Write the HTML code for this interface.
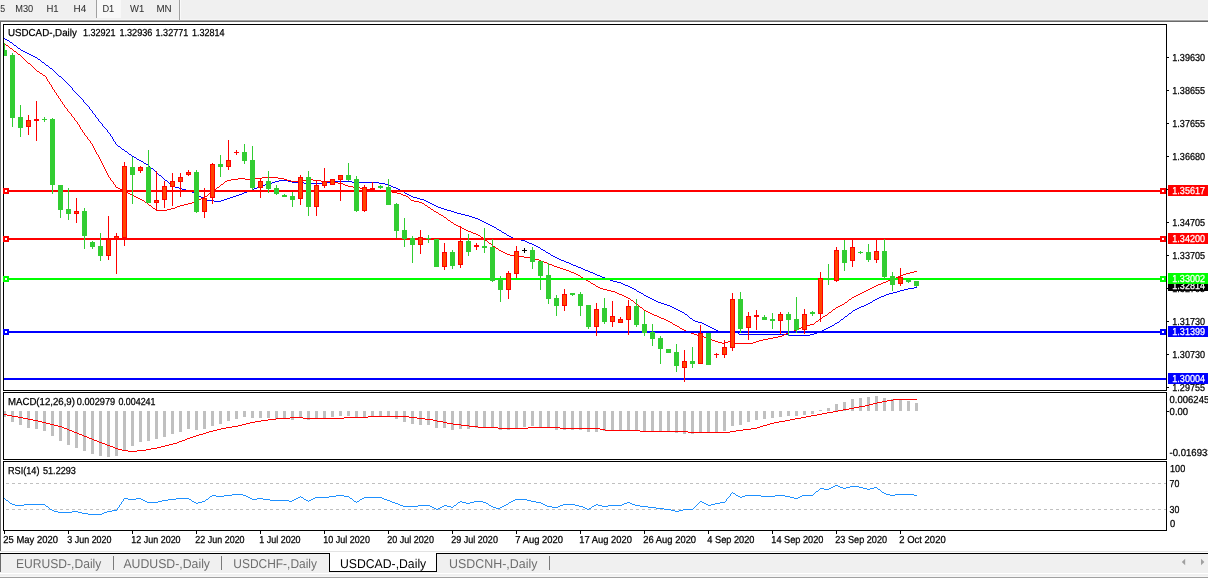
<!DOCTYPE html>
<html><head><meta charset="utf-8"><title>USDCAD-,Daily</title>
<style>
html,body{margin:0;padding:0;background:#fff;overflow:hidden}
svg{display:block;font-family:"Liberation Sans",sans-serif;text-rendering:geometricPrecision}
.c{shape-rendering:crispEdges}
.ma{fill:none;stroke-width:1;shape-rendering:crispEdges}
</style></head><body>
<svg width="1208" height="578" viewBox="0 0 1208 578">
<rect width="1208" height="578" fill="#fff"/>
<g class="c">
<rect x="0" y="0" width="1208" height="20" fill="#f0f0f0"/>
<rect x="0" y="19" width="1208" height="1" fill="#f6f6f6"/>
<rect x="0" y="20" width="1208" height="1" fill="#a6a6a6"/>
<rect x="0" y="21" width="1208" height="1" fill="#6a6a6a"/>
<rect x="97" y="0" width="24" height="18" fill="#f8f8f8"/>
<rect x="96" y="0" width="1" height="18" fill="#a0a0a0"/>
<rect x="179" y="0" width="1" height="20" fill="#a0a0a0"/>
<rect x="180" y="0" width="1" height="20" fill="#fafafa"/>
<rect x="0" y="21" width="1" height="530" fill="#6a6a6a"/>
</g>
<g>
<text x="0.3" y="12" font-size="10.1" fill="#333333" textLength="4.9" lengthAdjust="spacingAndGlyphs" stroke="#333333" stroke-width="0.05">5</text>
<text x="15.2" y="12" font-size="10.1" fill="#333333" textLength="18.0" lengthAdjust="spacingAndGlyphs" stroke="#333333" stroke-width="0.05">M30</text>
<text x="46.4" y="12" font-size="10.1" fill="#333333" textLength="12.2" lengthAdjust="spacingAndGlyphs" stroke="#333333" stroke-width="0.05">H1</text>
<text x="73.6" y="12" font-size="10.1" fill="#333333" textLength="12.7" lengthAdjust="spacingAndGlyphs" stroke="#333333" stroke-width="0.05">H4</text>
<text x="102.4" y="12" font-size="10.1" fill="#333333" textLength="11.8" lengthAdjust="spacingAndGlyphs" stroke="#333333" stroke-width="0.05">D1</text>
<text x="130.0" y="12" font-size="10.1" fill="#333333" textLength="14.2" lengthAdjust="spacingAndGlyphs" stroke="#333333" stroke-width="0.05">W1</text>
<text x="156.4" y="12" font-size="10.1" fill="#333333" textLength="15.2" lengthAdjust="spacingAndGlyphs" stroke="#333333" stroke-width="0.05">MN</text>
</g>
<g class="c" fill="none" stroke="#000" stroke-width="1">
<rect x="3.5" y="24.5" width="1163" height="366"/>
<rect x="3.5" y="392.5" width="1163" height="67"/>
<rect x="3.5" y="461.5" width="1163" height="69"/>
</g>
<path class="c" fill="#0000ff" d="M4 38h1v1h-1zM5 39h2v1h-2zM7 40h2v1h-2zM9 41h1v1h-1zM10 42h2v1h-2zM12 43h1v1h-1zM13 44h1v1h-1zM14 45h2v1h-2zM16 46h1v1h-1zM17 47h1v1h-1zM18 48h2v1h-2zM20 49h1v1h-1zM21 50h2v1h-2zM23 51h2v1h-2zM25 52h2v1h-2zM27 53h2v1h-2zM29 54h2v1h-2zM31 55h2v1h-2zM33 56h2v1h-2zM35 57h2v1h-2zM37 58h1v1h-1zM38 59h2v1h-2zM40 60h1v1h-1zM41 61h1v1h-1zM42 62h2v1h-2zM44 63h1v1h-1zM45 64h1v1h-1zM46 65h2v1h-2zM48 66h1v1h-1zM49 67h1v1h-1zM50 68h2v1h-2zM52 69h1v1h-1zM53 70h1v1h-1zM54 71h1v1h-1zM55 72h1v1h-1zM56 73h1v1h-1zM57 74h1v1h-1zM58 75h1v1h-1zM59 76h2v1h-2zM61 77h1v1h-1zM62 78h1v1h-1zM63 79h1v1h-1zM64 80h1v1h-1zM65 81h1v1h-1zM66 82h1v1h-1zM67 83h1v1h-1zM68 84h1v1h-1zM69 85h1v1h-1zM70 86h1v1h-1zM71 87h1v1h-1zM72 88h1v1h-1zM72 89h1v1h-1zM73 90h1v1h-1zM74 91h1v1h-1zM75 92h1v1h-1zM76 93h1v1h-1zM77 94h1v1h-1zM78 95h1v1h-1zM79 96h1v1h-1zM80 97h1v1h-1zM81 98h1v1h-1zM82 99h1v1h-1zM83 100h1v1h-1zM83 101h1v1h-1zM84 102h1v1h-1zM85 103h1v1h-1zM86 104h1v1h-1zM87 105h1v1h-1zM88 106h1v1h-1zM89 107h1v1h-1zM89 108h1v1h-1zM90 109h1v1h-1zM91 110h1v1h-1zM92 111h1v1h-1zM92 112h1v1h-1zM93 113h1v1h-1zM94 114h1v1h-1zM95 115h1v1h-1zM95 116h1v1h-1zM96 117h1v1h-1zM97 118h1v1h-1zM98 119h1v1h-1zM98 120h1v1h-1zM99 121h1v1h-1zM100 122h1v1h-1zM101 123h1v1h-1zM102 124h1v1h-1zM102 125h1v1h-1zM103 126h1v1h-1zM104 127h1v1h-1zM105 128h1v1h-1zM106 129h1v1h-1zM107 130h1v1h-1zM107 131h1v1h-1zM108 132h1v1h-1zM109 133h1v1h-1zM110 134h1v1h-1zM110 135h1v1h-1zM111 136h1v1h-1zM112 137h1v1h-1zM112 138h1v1h-1zM113 139h1v1h-1zM113 140h1v1h-1zM114 141h1v1h-1zM115 142h1v1h-1zM115 143h1v1h-1zM116 144h1v1h-1zM117 145h1v1h-1zM118 146h2v1h-2zM120 147h1v1h-1zM121 148h1v1h-1zM122 149h2v1h-2zM124 150h1v1h-1zM125 151h2v1h-2zM127 152h1v1h-1zM128 153h1v1h-1zM129 154h2v1h-2zM131 155h1v1h-1zM132 156h2v1h-2zM134 157h2v1h-2zM136 158h1v1h-1zM137 159h2v1h-2zM139 160h2v1h-2zM141 161h2v1h-2zM143 162h1v1h-1zM144 163h2v1h-2zM146 164h2v1h-2zM148 165h1v1h-1zM149 166h1v1h-1zM150 167h1v1h-1zM151 168h2v1h-2zM153 169h1v1h-1zM154 170h1v1h-1zM155 171h1v1h-1zM156 172h1v1h-1zM157 173h1v1h-1zM158 174h1v1h-1zM159 175h2v1h-2zM161 176h1v1h-1zM162 177h1v1h-1zM163 178h1v1h-1zM164 179h1v1h-1zM165 180h2v1h-2zM279 180h9v1h-9zM167 181h1v1h-1zM275 181h4v1h-4zM288 181h4v1h-4zM333 181h19v1h-19zM168 182h1v1h-1zM272 182h3v1h-3zM292 182h12v1h-12zM324 182h9v1h-9zM352 182h27v1h-27zM169 183h1v1h-1zM269 183h3v1h-3zM304 183h20v1h-20zM379 183h6v1h-6zM170 184h2v1h-2zM265 184h4v1h-4zM385 184h4v1h-4zM172 185h1v1h-1zM262 185h3v1h-3zM389 185h2v1h-2zM173 186h2v1h-2zM259 186h3v1h-3zM391 186h2v1h-2zM175 187h4v1h-4zM257 187h2v1h-2zM393 187h3v1h-3zM179 188h3v1h-3zM254 188h3v1h-3zM396 188h2v1h-2zM182 189h4v1h-4zM252 189h2v1h-2zM398 189h2v1h-2zM186 190h4v1h-4zM249 190h3v1h-3zM400 190h2v1h-2zM190 191h2v1h-2zM247 191h2v1h-2zM402 191h2v1h-2zM192 192h2v1h-2zM244 192h3v1h-3zM404 192h1v1h-1zM194 193h2v1h-2zM242 193h2v1h-2zM405 193h2v1h-2zM196 194h1v1h-1zM239 194h3v1h-3zM407 194h2v1h-2zM197 195h2v1h-2zM236 195h3v1h-3zM409 195h2v1h-2zM199 196h2v1h-2zM233 196h3v1h-3zM411 196h2v1h-2zM201 197h2v1h-2zM230 197h3v1h-3zM413 197h4v1h-4zM203 198h2v1h-2zM227 198h3v1h-3zM417 198h3v1h-3zM205 199h2v1h-2zM224 199h3v1h-3zM420 199h4v1h-4zM207 200h7v1h-7zM221 200h3v1h-3zM424 200h2v1h-2zM214 201h7v1h-7zM426 201h2v1h-2zM428 202h2v1h-2zM430 203h2v1h-2zM432 204h2v1h-2zM434 205h2v1h-2zM436 206h2v1h-2zM438 207h3v1h-3zM441 208h3v1h-3zM444 209h3v1h-3zM447 210h4v1h-4zM451 211h3v1h-3zM454 212h3v1h-3zM457 213h4v1h-4zM461 214h4v1h-4zM465 215h4v1h-4zM469 216h3v1h-3zM472 217h3v1h-3zM475 218h3v1h-3zM478 219h2v1h-2zM480 220h2v1h-2zM482 221h2v1h-2zM484 222h2v1h-2zM486 223h2v1h-2zM488 224h2v1h-2zM490 225h2v1h-2zM492 226h2v1h-2zM494 227h2v1h-2zM496 228h1v1h-1zM497 229h2v1h-2zM499 230h2v1h-2zM501 231h1v1h-1zM502 232h2v1h-2zM504 233h2v1h-2zM506 234h1v1h-1zM507 235h2v1h-2zM509 236h2v1h-2zM511 237h2v1h-2zM513 238h4v1h-4zM517 239h4v1h-4zM521 240h4v1h-4zM525 241h2v1h-2zM527 242h2v1h-2zM529 243h3v1h-3zM532 244h2v1h-2zM534 245h2v1h-2zM536 246h2v1h-2zM538 247h2v1h-2zM540 248h1v1h-1zM541 249h2v1h-2zM543 250h2v1h-2zM545 251h1v1h-1zM546 252h2v1h-2zM548 253h2v1h-2zM550 254h1v1h-1zM551 255h2v1h-2zM553 256h2v1h-2zM555 257h2v1h-2zM557 258h2v1h-2zM559 259h2v1h-2zM561 260h3v1h-3zM564 261h2v1h-2zM566 262h3v1h-3zM569 263h2v1h-2zM571 264h2v1h-2zM573 265h3v1h-3zM576 266h2v1h-2zM578 267h3v1h-3zM581 268h2v1h-2zM583 269h2v1h-2zM585 270h3v1h-3zM588 271h2v1h-2zM590 272h3v1h-3zM593 273h2v1h-2zM595 274h2v1h-2zM597 275h3v1h-3zM600 276h2v1h-2zM602 277h3v1h-3zM605 278h2v1h-2zM607 279h3v1h-3zM610 280h3v1h-3zM613 281h4v1h-4zM617 282h4v1h-4zM621 283h2v1h-2zM623 284h2v1h-2zM625 285h3v1h-3zM628 286h2v1h-2zM630 287h2v1h-2zM914 287h3v1h-3zM632 288h2v1h-2zM908 288h6v1h-6zM634 289h2v1h-2zM904 289h4v1h-4zM636 290h1v1h-1zM900 290h4v1h-4zM637 291h2v1h-2zM897 291h3v1h-3zM639 292h2v1h-2zM893 292h4v1h-4zM641 293h2v1h-2zM889 293h4v1h-4zM643 294h1v1h-1zM886 294h3v1h-3zM644 295h2v1h-2zM884 295h2v1h-2zM646 296h2v1h-2zM881 296h3v1h-3zM648 297h2v1h-2zM879 297h2v1h-2zM650 298h2v1h-2zM877 298h2v1h-2zM652 299h2v1h-2zM875 299h2v1h-2zM654 300h2v1h-2zM873 300h2v1h-2zM656 301h2v1h-2zM872 301h1v1h-1zM658 302h3v1h-3zM870 302h2v1h-2zM661 303h3v1h-3zM868 303h2v1h-2zM664 304h3v1h-3zM866 304h2v1h-2zM667 305h3v1h-3zM864 305h2v1h-2zM670 306h2v1h-2zM861 306h3v1h-3zM672 307h2v1h-2zM859 307h2v1h-2zM674 308h2v1h-2zM857 308h2v1h-2zM676 309h2v1h-2zM855 309h2v1h-2zM678 310h2v1h-2zM853 310h2v1h-2zM680 311h2v1h-2zM852 311h1v1h-1zM682 312h2v1h-2zM851 312h1v1h-1zM684 313h1v1h-1zM849 313h2v1h-2zM685 314h2v1h-2zM848 314h1v1h-1zM687 315h1v1h-1zM847 315h1v1h-1zM688 316h1v1h-1zM845 316h2v1h-2zM689 317h1v1h-1zM844 317h1v1h-1zM690 318h2v1h-2zM843 318h1v1h-1zM692 319h1v1h-1zM841 319h2v1h-2zM693 320h2v1h-2zM840 320h1v1h-1zM695 321h3v1h-3zM839 321h1v1h-1zM698 322h4v1h-4zM837 322h2v1h-2zM702 323h2v1h-2zM835 323h2v1h-2zM704 324h2v1h-2zM834 324h1v1h-1zM706 325h2v1h-2zM832 325h2v1h-2zM708 326h2v1h-2zM830 326h2v1h-2zM710 327h2v1h-2zM828 327h2v1h-2zM712 328h2v1h-2zM826 328h2v1h-2zM714 329h2v1h-2zM824 329h2v1h-2zM716 330h2v1h-2zM822 330h2v1h-2zM718 331h10v1h-10zM820 331h2v1h-2zM728 332h10v1h-10zM817 332h3v1h-3zM738 333h1v1h-1zM814 333h3v1h-3zM739 334h49v1h-49zM810 334h4v1h-4zM788 335h22v1h-22z"/>
<path class="c" fill="#ff0000" d="M4 43h1v1h-1zM5 44h1v1h-1zM6 45h2v1h-2zM8 46h1v1h-1zM9 47h1v1h-1zM10 48h2v1h-2zM12 49h1v1h-1zM13 50h1v1h-1zM14 51h2v1h-2zM16 52h1v1h-1zM17 53h1v1h-1zM18 54h2v1h-2zM20 55h1v1h-1zM21 56h1v1h-1zM22 57h1v1h-1zM23 58h1v1h-1zM24 59h1v1h-1zM25 60h1v1h-1zM26 61h1v1h-1zM27 62h1v1h-1zM28 63h2v1h-2zM30 64h1v1h-1zM31 65h1v1h-1zM32 66h1v1h-1zM33 67h1v1h-1zM34 68h1v1h-1zM35 69h1v1h-1zM36 70h1v1h-1zM37 71h2v1h-2zM39 72h1v1h-1zM40 73h2v1h-2zM42 74h1v1h-1zM43 75h2v1h-2zM45 76h1v1h-1zM46 77h1v1h-1zM46 78h1v1h-1zM47 79h1v1h-1zM47 80h1v1h-1zM48 81h1v1h-1zM49 82h1v1h-1zM49 83h1v1h-1zM50 84h1v1h-1zM51 85h1v1h-1zM51 86h1v1h-1zM52 87h1v1h-1zM52 88h1v1h-1zM53 89h1v1h-1zM54 90h1v1h-1zM54 91h1v1h-1zM55 92h1v1h-1zM56 93h1v1h-1zM56 94h1v1h-1zM57 95h1v1h-1zM58 96h1v1h-1zM58 97h1v1h-1zM59 98h1v1h-1zM60 99h1v1h-1zM60 100h1v1h-1zM61 101h1v1h-1zM62 102h1v1h-1zM62 103h1v1h-1zM63 104h1v1h-1zM64 105h1v1h-1zM64 106h1v1h-1zM65 107h1v1h-1zM66 108h1v1h-1zM67 109h1v1h-1zM67 110h1v1h-1zM68 111h1v1h-1zM69 112h1v1h-1zM70 113h1v1h-1zM71 114h1v1h-1zM71 115h1v1h-1zM72 116h1v1h-1zM73 117h1v1h-1zM74 118h1v1h-1zM74 119h1v1h-1zM75 120h1v1h-1zM76 121h1v1h-1zM77 122h1v1h-1zM77 123h1v1h-1zM78 124h1v1h-1zM79 125h1v1h-1zM79 126h1v1h-1zM80 127h1v1h-1zM80 128h1v1h-1zM81 129h1v1h-1zM82 130h1v1h-1zM82 131h1v1h-1zM83 132h1v1h-1zM84 133h1v1h-1zM84 134h1v1h-1zM85 135h1v1h-1zM86 136h1v1h-1zM87 137h1v1h-1zM87 138h1v1h-1zM88 139h1v1h-1zM89 140h1v1h-1zM90 141h1v1h-1zM90 142h1v1h-1zM91 143h1v1h-1zM92 144h1v1h-1zM92 145h1v1h-1zM93 146h1v1h-1zM93 147h1v1h-1zM94 148h1v1h-1zM94 149h1v1h-1zM95 150h1v1h-1zM95 151h1v1h-1zM96 152h1v1h-1zM96 153h1v1h-1zM97 154h1v1h-1zM98 155h1v1h-1zM98 156h1v1h-1zM99 157h1v1h-1zM99 158h1v1h-1zM100 159h1v1h-1zM100 160h1v1h-1zM101 161h1v1h-1zM101 162h1v1h-1zM102 163h1v1h-1zM102 164h1v1h-1zM103 165h1v1h-1zM103 166h1v1h-1zM104 167h1v1h-1zM104 168h1v1h-1zM105 169h1v1h-1zM105 170h1v1h-1zM106 171h1v1h-1zM106 172h1v1h-1zM107 173h1v1h-1zM107 174h1v1h-1zM108 175h1v1h-1zM108 176h1v1h-1zM109 177h1v1h-1zM262 177h16v1h-16zM110 178h1v1h-1zM238 178h7v1h-7zM254 178h8v1h-8zM278 178h6v1h-6zM110 179h1v1h-1zM231 179h7v1h-7zM245 179h9v1h-9zM284 179h3v1h-3zM306 179h7v1h-7zM111 180h1v1h-1zM227 180h4v1h-4zM287 180h4v1h-4zM302 180h4v1h-4zM313 180h8v1h-8zM112 181h1v1h-1zM225 181h2v1h-2zM291 181h11v1h-11zM321 181h9v1h-9zM113 182h1v1h-1zM224 182h1v1h-1zM330 182h8v1h-8zM113 183h1v1h-1zM223 183h1v1h-1zM338 183h5v1h-5zM114 184h1v1h-1zM221 184h2v1h-2zM343 184h2v1h-2zM115 185h1v1h-1zM220 185h1v1h-1zM345 185h3v1h-3zM115 186h1v1h-1zM219 186h1v1h-1zM348 186h5v1h-5zM116 187h2v1h-2zM217 187h2v1h-2zM353 187h7v1h-7zM118 188h2v1h-2zM216 188h1v1h-1zM360 188h5v1h-5zM120 189h3v1h-3zM215 189h1v1h-1zM365 189h9v1h-9zM123 190h2v1h-2zM213 190h2v1h-2zM374 190h10v1h-10zM125 191h2v1h-2zM212 191h1v1h-1zM384 191h8v1h-8zM127 192h1v1h-1zM211 192h1v1h-1zM392 192h5v1h-5zM128 193h2v1h-2zM209 193h2v1h-2zM397 193h4v1h-4zM130 194h2v1h-2zM208 194h1v1h-1zM401 194h2v1h-2zM132 195h2v1h-2zM207 195h1v1h-1zM403 195h3v1h-3zM134 196h2v1h-2zM205 196h2v1h-2zM406 196h2v1h-2zM136 197h2v1h-2zM203 197h2v1h-2zM408 197h1v1h-1zM138 198h2v1h-2zM201 198h2v1h-2zM409 198h1v1h-1zM140 199h2v1h-2zM199 199h2v1h-2zM410 199h1v1h-1zM142 200h2v1h-2zM197 200h2v1h-2zM411 200h3v1h-3zM144 201h1v1h-1zM195 201h2v1h-2zM414 201h5v1h-5zM145 202h2v1h-2zM192 202h3v1h-3zM419 202h3v1h-3zM147 203h1v1h-1zM188 203h4v1h-4zM422 203h2v1h-2zM148 204h1v1h-1zM184 204h4v1h-4zM424 204h1v1h-1zM149 205h2v1h-2zM180 205h4v1h-4zM425 205h2v1h-2zM151 206h1v1h-1zM177 206h3v1h-3zM427 206h1v1h-1zM152 207h1v1h-1zM175 207h2v1h-2zM428 207h2v1h-2zM153 208h2v1h-2zM171 208h4v1h-4zM430 208h1v1h-1zM155 209h1v1h-1zM167 209h4v1h-4zM431 209h2v1h-2zM156 210h11v1h-11zM433 210h1v1h-1zM434 211h2v1h-2zM436 212h2v1h-2zM438 213h1v1h-1zM439 214h2v1h-2zM441 215h2v1h-2zM443 216h1v1h-1zM444 217h2v1h-2zM446 218h1v1h-1zM447 219h1v1h-1zM448 220h2v1h-2zM450 221h1v1h-1zM451 222h2v1h-2zM453 223h1v1h-1zM454 224h2v1h-2zM456 225h2v1h-2zM458 226h2v1h-2zM460 227h2v1h-2zM462 228h2v1h-2zM464 229h2v1h-2zM466 230h2v1h-2zM468 231h3v1h-3zM471 232h2v1h-2zM473 233h3v1h-3zM476 234h2v1h-2zM478 235h2v1h-2zM480 236h1v1h-1zM481 237h2v1h-2zM483 238h1v1h-1zM484 239h1v1h-1zM485 240h2v1h-2zM487 241h1v1h-1zM488 242h1v1h-1zM489 243h2v1h-2zM491 244h1v1h-1zM492 245h1v1h-1zM493 246h2v1h-2zM495 247h1v1h-1zM496 248h2v1h-2zM498 249h1v1h-1zM499 250h2v1h-2zM501 251h2v1h-2zM503 252h2v1h-2zM505 253h2v1h-2zM507 254h3v1h-3zM510 255h5v1h-5zM515 256h9v1h-9zM524 257h7v1h-7zM531 258h4v1h-4zM535 259h4v1h-4zM539 260h2v1h-2zM541 261h3v1h-3zM544 262h3v1h-3zM547 263h2v1h-2zM549 264h3v1h-3zM552 265h2v1h-2zM554 266h3v1h-3zM557 267h3v1h-3zM560 268h3v1h-3zM563 269h3v1h-3zM566 270h3v1h-3zM569 271h2v1h-2zM914 271h3v1h-3zM571 272h3v1h-3zM910 272h4v1h-4zM574 273h2v1h-2zM906 273h4v1h-4zM576 274h2v1h-2zM903 274h3v1h-3zM578 275h2v1h-2zM901 275h2v1h-2zM580 276h1v1h-1zM898 276h3v1h-3zM581 277h2v1h-2zM896 277h2v1h-2zM583 278h2v1h-2zM893 278h3v1h-3zM585 279h1v1h-1zM891 279h2v1h-2zM586 280h2v1h-2zM888 280h3v1h-3zM588 281h2v1h-2zM886 281h2v1h-2zM590 282h1v1h-1zM883 282h3v1h-3zM591 283h2v1h-2zM881 283h2v1h-2zM593 284h2v1h-2zM878 284h3v1h-3zM595 285h1v1h-1zM876 285h2v1h-2zM596 286h2v1h-2zM874 286h2v1h-2zM598 287h2v1h-2zM872 287h2v1h-2zM600 288h3v1h-3zM870 288h2v1h-2zM603 289h4v1h-4zM868 289h2v1h-2zM607 290h4v1h-4zM866 290h2v1h-2zM611 291h4v1h-4zM864 291h2v1h-2zM615 292h2v1h-2zM862 292h2v1h-2zM617 293h2v1h-2zM860 293h2v1h-2zM619 294h3v1h-3zM858 294h2v1h-2zM622 295h2v1h-2zM856 295h2v1h-2zM624 296h2v1h-2zM854 296h2v1h-2zM626 297h2v1h-2zM852 297h2v1h-2zM628 298h2v1h-2zM851 298h1v1h-1zM630 299h1v1h-1zM849 299h2v1h-2zM631 300h2v1h-2zM848 300h1v1h-1zM633 301h1v1h-1zM847 301h1v1h-1zM634 302h1v1h-1zM845 302h2v1h-2zM635 303h2v1h-2zM844 303h1v1h-1zM637 304h1v1h-1zM842 304h2v1h-2zM638 305h1v1h-1zM840 305h2v1h-2zM639 306h1v1h-1zM838 306h2v1h-2zM640 307h2v1h-2zM836 307h2v1h-2zM642 308h1v1h-1zM835 308h1v1h-1zM643 309h1v1h-1zM833 309h2v1h-2zM644 310h2v1h-2zM832 310h1v1h-1zM646 311h2v1h-2zM831 311h1v1h-1zM648 312h2v1h-2zM829 312h2v1h-2zM650 313h2v1h-2zM828 313h1v1h-1zM652 314h2v1h-2zM827 314h1v1h-1zM654 315h3v1h-3zM825 315h2v1h-2zM657 316h2v1h-2zM823 316h2v1h-2zM659 317h2v1h-2zM822 317h1v1h-1zM661 318h3v1h-3zM820 318h2v1h-2zM664 319h2v1h-2zM819 319h1v1h-1zM666 320h2v1h-2zM818 320h1v1h-1zM668 321h2v1h-2zM816 321h2v1h-2zM670 322h2v1h-2zM815 322h1v1h-1zM672 323h1v1h-1zM814 323h1v1h-1zM673 324h2v1h-2zM810 324h4v1h-4zM675 325h2v1h-2zM806 325h4v1h-4zM677 326h2v1h-2zM804 326h2v1h-2zM679 327h1v1h-1zM801 327h3v1h-3zM680 328h2v1h-2zM799 328h2v1h-2zM682 329h2v1h-2zM796 329h3v1h-3zM684 330h2v1h-2zM794 330h2v1h-2zM686 331h3v1h-3zM791 331h3v1h-3zM689 332h2v1h-2zM789 332h2v1h-2zM691 333h3v1h-3zM786 333h3v1h-3zM694 334h3v1h-3zM784 334h2v1h-2zM697 335h3v1h-3zM782 335h2v1h-2zM700 336h4v1h-4zM778 336h4v1h-4zM704 337h3v1h-3zM773 337h5v1h-5zM707 338h2v1h-2zM768 338h5v1h-5zM709 339h3v1h-3zM763 339h5v1h-5zM712 340h3v1h-3zM759 340h4v1h-4zM715 341h3v1h-3zM728 341h3v1h-3zM756 341h3v1h-3zM718 342h4v1h-4zM725 342h3v1h-3zM731 342h4v1h-4zM753 342h3v1h-3zM722 343h3v1h-3zM735 343h18v1h-18z"/>
<g class="c">
<rect x="4" y="190" width="1162" height="2" fill="#ff0000"/>
<rect x="4" y="238" width="1162" height="2" fill="#ff0000"/>
<rect x="4" y="278" width="1162" height="2" fill="#00ff00"/>
<rect x="4" y="331" width="1162" height="2" fill="#0000ff"/>
<rect x="4" y="378" width="1162" height="2" fill="#0000ff"/>
</g>
<g class="c">
<rect x="4" y="43" width="1" height="13" fill="#32cd32"/>
<rect x="4" y="50" width="3" height="6" fill="#32cd32"/>
<rect x="12" y="53" width="1" height="74" fill="#32cd32"/>
<rect x="10" y="55" width="5" height="63" fill="#32cd32"/>
<rect x="20" y="105" width="1" height="32" fill="#32cd32"/>
<rect x="18" y="117" width="5" height="11" fill="#32cd32"/>
<rect x="28" y="115" width="1" height="20" fill="#ff0000"/>
<rect x="26" y="120" width="5" height="7" fill="#ff0000"/>
<rect x="27" y="121" width="3" height="5" fill="#ff4500"/>
<rect x="36" y="101" width="1" height="40" fill="#ff0000"/>
<rect x="34" y="119" width="5" height="2" fill="#ff0000"/>
<rect x="44" y="117" width="1" height="5" fill="#32cd32"/>
<rect x="42" y="119" width="5" height="1" fill="#32cd32"/>
<rect x="52" y="118" width="1" height="76" fill="#32cd32"/>
<rect x="50" y="119" width="5" height="66" fill="#32cd32"/>
<rect x="60" y="185" width="1" height="33" fill="#32cd32"/>
<rect x="58" y="185" width="5" height="25" fill="#32cd32"/>
<rect x="68" y="188" width="1" height="32" fill="#32cd32"/>
<rect x="66" y="209" width="5" height="5" fill="#32cd32"/>
<rect x="76" y="198" width="1" height="25" fill="#ff0000"/>
<rect x="74" y="211" width="5" height="3" fill="#ff0000"/>
<rect x="75" y="212" width="3" height="1" fill="#ff4500"/>
<rect x="84" y="208" width="1" height="41" fill="#32cd32"/>
<rect x="82" y="211" width="5" height="25" fill="#32cd32"/>
<rect x="92" y="241" width="1" height="8" fill="#32cd32"/>
<rect x="90" y="242" width="5" height="5" fill="#32cd32"/>
<rect x="100" y="233" width="1" height="28" fill="#32cd32"/>
<rect x="98" y="246" width="5" height="10" fill="#32cd32"/>
<rect x="108" y="216" width="1" height="44" fill="#ff0000"/>
<rect x="106" y="239" width="5" height="17" fill="#ff0000"/>
<rect x="107" y="240" width="3" height="15" fill="#ff4500"/>
<rect x="116" y="233" width="1" height="41" fill="#ff0000"/>
<rect x="114" y="236" width="5" height="3" fill="#ff0000"/>
<rect x="115" y="237" width="3" height="1" fill="#ff4500"/>
<rect x="124" y="162" width="1" height="84" fill="#ff0000"/>
<rect x="122" y="166" width="5" height="72" fill="#ff0000"/>
<rect x="123" y="167" width="3" height="70" fill="#ff4500"/>
<rect x="132" y="157" width="1" height="47" fill="#32cd32"/>
<rect x="130" y="167" width="5" height="8" fill="#32cd32"/>
<rect x="140" y="166" width="1" height="7" fill="#ff0000"/>
<rect x="138" y="167" width="5" height="4" fill="#ff0000"/>
<rect x="139" y="168" width="3" height="2" fill="#ff4500"/>
<rect x="148" y="150" width="1" height="53" fill="#32cd32"/>
<rect x="146" y="167" width="5" height="36" fill="#32cd32"/>
<rect x="156" y="171" width="1" height="39" fill="#ff0000"/>
<rect x="154" y="200" width="5" height="3" fill="#ff0000"/>
<rect x="155" y="201" width="3" height="1" fill="#ff4500"/>
<rect x="164" y="181" width="1" height="27" fill="#ff0000"/>
<rect x="162" y="186" width="5" height="14" fill="#ff0000"/>
<rect x="163" y="187" width="3" height="12" fill="#ff4500"/>
<rect x="172" y="173" width="1" height="33" fill="#ff0000"/>
<rect x="170" y="181" width="5" height="6" fill="#ff0000"/>
<rect x="171" y="182" width="3" height="4" fill="#ff4500"/>
<rect x="180" y="173" width="1" height="24" fill="#ff0000"/>
<rect x="178" y="177" width="5" height="5" fill="#ff0000"/>
<rect x="179" y="178" width="3" height="3" fill="#ff4500"/>
<rect x="188" y="170" width="1" height="6" fill="#ff0000"/>
<rect x="186" y="172" width="5" height="3" fill="#ff0000"/>
<rect x="187" y="173" width="3" height="1" fill="#ff4500"/>
<rect x="196" y="170" width="1" height="43" fill="#32cd32"/>
<rect x="194" y="172" width="5" height="40" fill="#32cd32"/>
<rect x="204" y="188" width="1" height="30" fill="#ff0000"/>
<rect x="202" y="198" width="5" height="14" fill="#ff0000"/>
<rect x="203" y="199" width="3" height="12" fill="#ff4500"/>
<rect x="212" y="163" width="1" height="41" fill="#ff0000"/>
<rect x="210" y="164" width="5" height="34" fill="#ff0000"/>
<rect x="211" y="165" width="3" height="32" fill="#ff4500"/>
<rect x="220" y="155" width="1" height="22" fill="#32cd32"/>
<rect x="218" y="164" width="5" height="3" fill="#32cd32"/>
<rect x="228" y="140" width="1" height="30" fill="#ff0000"/>
<rect x="226" y="160" width="5" height="7" fill="#ff0000"/>
<rect x="227" y="161" width="3" height="5" fill="#ff4500"/>
<rect x="236" y="150" width="1" height="5" fill="#ff0000"/>
<rect x="234" y="152" width="5" height="1" fill="#ff0000"/>
<rect x="244" y="144" width="1" height="20" fill="#32cd32"/>
<rect x="242" y="152" width="5" height="9" fill="#32cd32"/>
<rect x="252" y="146" width="1" height="44" fill="#32cd32"/>
<rect x="250" y="160" width="5" height="28" fill="#32cd32"/>
<rect x="260" y="179" width="1" height="19" fill="#ff0000"/>
<rect x="258" y="181" width="5" height="7" fill="#ff0000"/>
<rect x="259" y="182" width="3" height="5" fill="#ff4500"/>
<rect x="268" y="171" width="1" height="22" fill="#32cd32"/>
<rect x="266" y="181" width="5" height="8" fill="#32cd32"/>
<rect x="276" y="185" width="1" height="10" fill="#32cd32"/>
<rect x="274" y="188" width="5" height="6" fill="#32cd32"/>
<rect x="284" y="194" width="1" height="3" fill="#32cd32"/>
<rect x="282" y="195" width="5" height="2" fill="#32cd32"/>
<rect x="292" y="192" width="1" height="15" fill="#32cd32"/>
<rect x="290" y="196" width="5" height="4" fill="#32cd32"/>
<rect x="300" y="175" width="1" height="30" fill="#ff0000"/>
<rect x="298" y="177" width="5" height="22" fill="#ff0000"/>
<rect x="299" y="178" width="3" height="20" fill="#ff4500"/>
<rect x="308" y="171" width="1" height="45" fill="#32cd32"/>
<rect x="306" y="177" width="5" height="30" fill="#32cd32"/>
<rect x="316" y="181" width="1" height="35" fill="#ff0000"/>
<rect x="314" y="185" width="5" height="22" fill="#ff0000"/>
<rect x="315" y="186" width="3" height="20" fill="#ff4500"/>
<rect x="324" y="168" width="1" height="20" fill="#ff0000"/>
<rect x="322" y="181" width="5" height="5" fill="#ff0000"/>
<rect x="323" y="182" width="3" height="3" fill="#ff4500"/>
<rect x="332" y="179" width="1" height="6" fill="#ff0000"/>
<rect x="330" y="179" width="5" height="6" fill="#ff0000"/>
<rect x="331" y="180" width="3" height="4" fill="#ff4500"/>
<rect x="340" y="175" width="1" height="26" fill="#ff0000"/>
<rect x="338" y="175" width="5" height="5" fill="#ff0000"/>
<rect x="339" y="176" width="3" height="3" fill="#ff4500"/>
<rect x="348" y="163" width="1" height="18" fill="#32cd32"/>
<rect x="346" y="175" width="5" height="5" fill="#32cd32"/>
<rect x="356" y="176" width="1" height="36" fill="#32cd32"/>
<rect x="354" y="179" width="5" height="32" fill="#32cd32"/>
<rect x="364" y="185" width="1" height="27" fill="#ff0000"/>
<rect x="362" y="187" width="5" height="24" fill="#ff0000"/>
<rect x="363" y="188" width="3" height="22" fill="#ff4500"/>
<rect x="372" y="182" width="1" height="8" fill="#ff0000"/>
<rect x="370" y="188" width="5" height="2" fill="#ff0000"/>
<rect x="380" y="185" width="1" height="4" fill="#32cd32"/>
<rect x="378" y="186" width="5" height="2" fill="#32cd32"/>
<rect x="388" y="179" width="1" height="26" fill="#32cd32"/>
<rect x="386" y="187" width="5" height="18" fill="#32cd32"/>
<rect x="396" y="203" width="1" height="35" fill="#32cd32"/>
<rect x="394" y="204" width="5" height="27" fill="#32cd32"/>
<rect x="404" y="218" width="1" height="29" fill="#32cd32"/>
<rect x="402" y="230" width="5" height="9" fill="#32cd32"/>
<rect x="412" y="236" width="1" height="27" fill="#32cd32"/>
<rect x="410" y="238" width="5" height="7" fill="#32cd32"/>
<rect x="420" y="230" width="1" height="24" fill="#ff0000"/>
<rect x="418" y="237" width="5" height="8" fill="#ff0000"/>
<rect x="419" y="238" width="3" height="6" fill="#ff4500"/>
<rect x="428" y="235" width="1" height="8" fill="#32cd32"/>
<rect x="426" y="238" width="5" height="1" fill="#32cd32"/>
<rect x="436" y="239" width="1" height="28" fill="#32cd32"/>
<rect x="434" y="239" width="5" height="28" fill="#32cd32"/>
<rect x="444" y="243" width="1" height="27" fill="#ff0000"/>
<rect x="442" y="252" width="5" height="15" fill="#ff0000"/>
<rect x="443" y="253" width="3" height="13" fill="#ff4500"/>
<rect x="452" y="250" width="1" height="19" fill="#32cd32"/>
<rect x="450" y="252" width="5" height="14" fill="#32cd32"/>
<rect x="460" y="226" width="1" height="42" fill="#ff0000"/>
<rect x="458" y="241" width="5" height="24" fill="#ff0000"/>
<rect x="459" y="242" width="3" height="22" fill="#ff4500"/>
<rect x="468" y="234" width="1" height="22" fill="#32cd32"/>
<rect x="466" y="241" width="5" height="11" fill="#32cd32"/>
<rect x="476" y="243" width="1" height="7" fill="#ff0000"/>
<rect x="474" y="245" width="5" height="2" fill="#ff0000"/>
<rect x="484" y="228" width="1" height="25" fill="#32cd32"/>
<rect x="482" y="246" width="5" height="2" fill="#32cd32"/>
<rect x="492" y="239" width="1" height="43" fill="#32cd32"/>
<rect x="490" y="247" width="5" height="34" fill="#32cd32"/>
<rect x="500" y="276" width="1" height="26" fill="#32cd32"/>
<rect x="498" y="279" width="5" height="11" fill="#32cd32"/>
<rect x="508" y="271" width="1" height="28" fill="#ff0000"/>
<rect x="506" y="273" width="5" height="17" fill="#ff0000"/>
<rect x="507" y="274" width="3" height="15" fill="#ff4500"/>
<rect x="516" y="246" width="1" height="32" fill="#ff0000"/>
<rect x="514" y="251" width="5" height="23" fill="#ff0000"/>
<rect x="515" y="252" width="3" height="21" fill="#ff4500"/>
<rect x="524" y="248" width="1" height="5" fill="#000"/>
<rect x="522" y="250" width="5" height="1" fill="#000"/>
<rect x="532" y="247" width="1" height="22" fill="#32cd32"/>
<rect x="530" y="250" width="5" height="12" fill="#32cd32"/>
<rect x="540" y="261" width="1" height="29" fill="#32cd32"/>
<rect x="538" y="261" width="5" height="15" fill="#32cd32"/>
<rect x="548" y="263" width="1" height="41" fill="#32cd32"/>
<rect x="546" y="275" width="5" height="24" fill="#32cd32"/>
<rect x="556" y="295" width="1" height="21" fill="#32cd32"/>
<rect x="554" y="298" width="5" height="8" fill="#32cd32"/>
<rect x="564" y="289" width="1" height="22" fill="#ff0000"/>
<rect x="562" y="294" width="5" height="12" fill="#ff0000"/>
<rect x="563" y="295" width="3" height="10" fill="#ff4500"/>
<rect x="572" y="293" width="1" height="3" fill="#32cd32"/>
<rect x="570" y="293" width="5" height="2" fill="#32cd32"/>
<rect x="580" y="292" width="1" height="24" fill="#32cd32"/>
<rect x="578" y="294" width="5" height="12" fill="#32cd32"/>
<rect x="588" y="305" width="1" height="24" fill="#32cd32"/>
<rect x="586" y="305" width="5" height="22" fill="#32cd32"/>
<rect x="596" y="303" width="1" height="33" fill="#ff0000"/>
<rect x="594" y="309" width="5" height="18" fill="#ff0000"/>
<rect x="595" y="310" width="3" height="16" fill="#ff4500"/>
<rect x="604" y="298" width="1" height="26" fill="#32cd32"/>
<rect x="602" y="308" width="5" height="14" fill="#32cd32"/>
<rect x="612" y="301" width="1" height="26" fill="#ff0000"/>
<rect x="610" y="316" width="5" height="6" fill="#ff0000"/>
<rect x="611" y="317" width="3" height="4" fill="#ff4500"/>
<rect x="620" y="317" width="1" height="6" fill="#ff0000"/>
<rect x="618" y="319" width="5" height="4" fill="#ff0000"/>
<rect x="619" y="320" width="3" height="2" fill="#ff4500"/>
<rect x="628" y="300" width="1" height="35" fill="#ff0000"/>
<rect x="626" y="306" width="5" height="14" fill="#ff0000"/>
<rect x="627" y="307" width="3" height="12" fill="#ff4500"/>
<rect x="636" y="299" width="1" height="28" fill="#32cd32"/>
<rect x="634" y="306" width="5" height="19" fill="#32cd32"/>
<rect x="644" y="311" width="1" height="25" fill="#32cd32"/>
<rect x="642" y="324" width="5" height="9" fill="#32cd32"/>
<rect x="652" y="324" width="1" height="22" fill="#32cd32"/>
<rect x="650" y="332" width="5" height="7" fill="#32cd32"/>
<rect x="660" y="336" width="1" height="28" fill="#32cd32"/>
<rect x="658" y="338" width="5" height="11" fill="#32cd32"/>
<rect x="668" y="349" width="1" height="4" fill="#32cd32"/>
<rect x="666" y="349" width="5" height="4" fill="#32cd32"/>
<rect x="676" y="344" width="1" height="28" fill="#32cd32"/>
<rect x="674" y="352" width="5" height="14" fill="#32cd32"/>
<rect x="684" y="350" width="1" height="32" fill="#ff0000"/>
<rect x="682" y="361" width="5" height="7" fill="#ff0000"/>
<rect x="683" y="362" width="3" height="5" fill="#ff4500"/>
<rect x="692" y="347" width="1" height="21" fill="#32cd32"/>
<rect x="690" y="361" width="5" height="3" fill="#32cd32"/>
<rect x="700" y="325" width="1" height="39" fill="#ff0000"/>
<rect x="698" y="333" width="5" height="31" fill="#ff0000"/>
<rect x="699" y="334" width="3" height="29" fill="#ff4500"/>
<rect x="708" y="333" width="1" height="32" fill="#32cd32"/>
<rect x="706" y="333" width="5" height="32" fill="#32cd32"/>
<rect x="716" y="353" width="1" height="5" fill="#ff0000"/>
<rect x="714" y="354" width="5" height="1" fill="#ff0000"/>
<rect x="724" y="340" width="1" height="18" fill="#ff0000"/>
<rect x="722" y="347" width="5" height="8" fill="#ff0000"/>
<rect x="723" y="348" width="3" height="6" fill="#ff4500"/>
<rect x="732" y="293" width="1" height="58" fill="#ff0000"/>
<rect x="730" y="299" width="5" height="49" fill="#ff0000"/>
<rect x="731" y="300" width="3" height="47" fill="#ff4500"/>
<rect x="740" y="292" width="1" height="41" fill="#32cd32"/>
<rect x="738" y="299" width="5" height="30" fill="#32cd32"/>
<rect x="748" y="312" width="1" height="28" fill="#ff0000"/>
<rect x="746" y="316" width="5" height="12" fill="#ff0000"/>
<rect x="747" y="317" width="3" height="10" fill="#ff4500"/>
<rect x="756" y="310" width="1" height="20" fill="#ff0000"/>
<rect x="754" y="315" width="5" height="2" fill="#ff0000"/>
<rect x="764" y="315" width="1" height="5" fill="#32cd32"/>
<rect x="762" y="317" width="5" height="3" fill="#32cd32"/>
<rect x="772" y="313" width="1" height="16" fill="#32cd32"/>
<rect x="770" y="319" width="5" height="2" fill="#32cd32"/>
<rect x="780" y="312" width="1" height="22" fill="#ff0000"/>
<rect x="778" y="314" width="5" height="7" fill="#ff0000"/>
<rect x="779" y="315" width="3" height="5" fill="#ff4500"/>
<rect x="788" y="312" width="1" height="24" fill="#32cd32"/>
<rect x="786" y="314" width="5" height="6" fill="#32cd32"/>
<rect x="796" y="297" width="1" height="36" fill="#32cd32"/>
<rect x="794" y="319" width="5" height="11" fill="#32cd32"/>
<rect x="804" y="309" width="1" height="25" fill="#ff0000"/>
<rect x="802" y="314" width="5" height="16" fill="#ff0000"/>
<rect x="803" y="315" width="3" height="14" fill="#ff4500"/>
<rect x="812" y="311" width="1" height="5" fill="#32cd32"/>
<rect x="810" y="312" width="5" height="2" fill="#32cd32"/>
<rect x="820" y="272" width="1" height="50" fill="#ff0000"/>
<rect x="818" y="278" width="5" height="36" fill="#ff0000"/>
<rect x="819" y="279" width="3" height="34" fill="#ff4500"/>
<rect x="828" y="264" width="1" height="21" fill="#32cd32"/>
<rect x="826" y="278" width="5" height="1" fill="#32cd32"/>
<rect x="836" y="247" width="1" height="35" fill="#ff0000"/>
<rect x="834" y="250" width="5" height="31" fill="#ff0000"/>
<rect x="835" y="251" width="3" height="29" fill="#ff4500"/>
<rect x="844" y="240" width="1" height="31" fill="#32cd32"/>
<rect x="842" y="250" width="5" height="13" fill="#32cd32"/>
<rect x="852" y="240" width="1" height="27" fill="#ff0000"/>
<rect x="850" y="247" width="5" height="14" fill="#ff0000"/>
<rect x="851" y="248" width="3" height="12" fill="#ff4500"/>
<rect x="860" y="251" width="1" height="3" fill="#32cd32"/>
<rect x="858" y="252" width="5" height="1" fill="#32cd32"/>
<rect x="868" y="244" width="1" height="18" fill="#32cd32"/>
<rect x="866" y="252" width="5" height="8" fill="#32cd32"/>
<rect x="876" y="240" width="1" height="23" fill="#ff0000"/>
<rect x="874" y="251" width="5" height="9" fill="#ff0000"/>
<rect x="875" y="252" width="3" height="7" fill="#ff4500"/>
<rect x="884" y="239" width="1" height="40" fill="#32cd32"/>
<rect x="882" y="251" width="5" height="26" fill="#32cd32"/>
<rect x="892" y="272" width="1" height="19" fill="#32cd32"/>
<rect x="890" y="276" width="5" height="9" fill="#32cd32"/>
<rect x="900" y="268" width="1" height="18" fill="#ff0000"/>
<rect x="898" y="277" width="5" height="7" fill="#ff0000"/>
<rect x="899" y="278" width="3" height="5" fill="#ff4500"/>
<rect x="908" y="279" width="1" height="4" fill="#32cd32"/>
<rect x="906" y="280" width="5" height="2" fill="#32cd32"/>
<rect x="916" y="281" width="1" height="6" fill="#32cd32"/>
<rect x="914" y="281" width="5" height="5" fill="#32cd32"/>
<rect x="3" y="188" width="6" height="6" fill="#ff0000"/>
<rect x="5" y="190" width="2" height="2" fill="#fff"/>
<rect x="1160" y="188" width="6" height="6" fill="#ff0000"/>
<rect x="1162" y="190" width="2" height="2" fill="#fff"/>
<rect x="3" y="236" width="6" height="6" fill="#ff0000"/>
<rect x="5" y="238" width="2" height="2" fill="#fff"/>
<rect x="1160" y="236" width="6" height="6" fill="#ff0000"/>
<rect x="1162" y="238" width="2" height="2" fill="#fff"/>
<rect x="3" y="276" width="6" height="6" fill="#00ff00"/>
<rect x="5" y="278" width="2" height="2" fill="#fff"/>
<rect x="1160" y="276" width="6" height="6" fill="#00ff00"/>
<rect x="1162" y="278" width="2" height="2" fill="#fff"/>
<rect x="3" y="329" width="6" height="6" fill="#0000ff"/>
<rect x="5" y="331" width="2" height="2" fill="#fff"/>
<rect x="1160" y="329" width="6" height="6" fill="#0000ff"/>
<rect x="1162" y="331" width="2" height="2" fill="#fff"/>
</g>
<g class="c">
<rect x="4" y="411" width="2" height="6" fill="#c0c0c0"/>
<rect x="11" y="411" width="3" height="11" fill="#c0c0c0"/>
<rect x="19" y="411" width="3" height="14" fill="#c0c0c0"/>
<rect x="27" y="411" width="3" height="17" fill="#c0c0c0"/>
<rect x="35" y="411" width="3" height="18" fill="#c0c0c0"/>
<rect x="43" y="411" width="3" height="20" fill="#c0c0c0"/>
<rect x="51" y="411" width="3" height="25" fill="#c0c0c0"/>
<rect x="59" y="411" width="3" height="30" fill="#c0c0c0"/>
<rect x="67" y="411" width="3" height="34" fill="#c0c0c0"/>
<rect x="75" y="411" width="3" height="37" fill="#c0c0c0"/>
<rect x="83" y="411" width="3" height="40" fill="#c0c0c0"/>
<rect x="91" y="411" width="3" height="43" fill="#c0c0c0"/>
<rect x="99" y="411" width="3" height="45" fill="#c0c0c0"/>
<rect x="107" y="411" width="3" height="46" fill="#c0c0c0"/>
<rect x="115" y="411" width="3" height="45" fill="#c0c0c0"/>
<rect x="123" y="411" width="3" height="40" fill="#c0c0c0"/>
<rect x="131" y="411" width="3" height="35" fill="#c0c0c0"/>
<rect x="139" y="411" width="3" height="31" fill="#c0c0c0"/>
<rect x="147" y="411" width="3" height="30" fill="#c0c0c0"/>
<rect x="155" y="411" width="3" height="28" fill="#c0c0c0"/>
<rect x="163" y="411" width="3" height="26" fill="#c0c0c0"/>
<rect x="171" y="411" width="3" height="23" fill="#c0c0c0"/>
<rect x="179" y="411" width="3" height="21" fill="#c0c0c0"/>
<rect x="187" y="411" width="3" height="18" fill="#c0c0c0"/>
<rect x="195" y="411" width="3" height="19" fill="#c0c0c0"/>
<rect x="203" y="411" width="3" height="18" fill="#c0c0c0"/>
<rect x="211" y="411" width="3" height="15" fill="#c0c0c0"/>
<rect x="219" y="411" width="3" height="13" fill="#c0c0c0"/>
<rect x="227" y="411" width="3" height="10" fill="#c0c0c0"/>
<rect x="235" y="411" width="3" height="8" fill="#c0c0c0"/>
<rect x="243" y="411" width="3" height="6" fill="#c0c0c0"/>
<rect x="251" y="411" width="3" height="7" fill="#c0c0c0"/>
<rect x="259" y="411" width="3" height="7" fill="#c0c0c0"/>
<rect x="267" y="411" width="3" height="7" fill="#c0c0c0"/>
<rect x="275" y="411" width="3" height="8" fill="#c0c0c0"/>
<rect x="283" y="411" width="3" height="8" fill="#c0c0c0"/>
<rect x="291" y="411" width="3" height="9" fill="#c0c0c0"/>
<rect x="299" y="411" width="3" height="7" fill="#c0c0c0"/>
<rect x="307" y="411" width="3" height="9" fill="#c0c0c0"/>
<rect x="315" y="411" width="3" height="7" fill="#c0c0c0"/>
<rect x="323" y="411" width="3" height="7" fill="#c0c0c0"/>
<rect x="331" y="411" width="3" height="6" fill="#c0c0c0"/>
<rect x="339" y="411" width="3" height="5" fill="#c0c0c0"/>
<rect x="347" y="411" width="3" height="5" fill="#c0c0c0"/>
<rect x="355" y="411" width="3" height="6" fill="#c0c0c0"/>
<rect x="363" y="411" width="3" height="6" fill="#c0c0c0"/>
<rect x="371" y="411" width="3" height="5" fill="#c0c0c0"/>
<rect x="379" y="411" width="3" height="5" fill="#c0c0c0"/>
<rect x="387" y="411" width="3" height="5" fill="#c0c0c0"/>
<rect x="395" y="411" width="3" height="8" fill="#c0c0c0"/>
<rect x="403" y="411" width="3" height="11" fill="#c0c0c0"/>
<rect x="411" y="411" width="3" height="13" fill="#c0c0c0"/>
<rect x="419" y="411" width="3" height="14" fill="#c0c0c0"/>
<rect x="427" y="411" width="3" height="14" fill="#c0c0c0"/>
<rect x="435" y="411" width="3" height="17" fill="#c0c0c0"/>
<rect x="443" y="411" width="3" height="17" fill="#c0c0c0"/>
<rect x="451" y="411" width="3" height="19" fill="#c0c0c0"/>
<rect x="459" y="411" width="3" height="18" fill="#c0c0c0"/>
<rect x="467" y="411" width="3" height="18" fill="#c0c0c0"/>
<rect x="475" y="411" width="3" height="17" fill="#c0c0c0"/>
<rect x="483" y="411" width="3" height="16" fill="#c0c0c0"/>
<rect x="491" y="411" width="3" height="17" fill="#c0c0c0"/>
<rect x="499" y="411" width="3" height="19" fill="#c0c0c0"/>
<rect x="507" y="411" width="3" height="19" fill="#c0c0c0"/>
<rect x="515" y="411" width="3" height="17" fill="#c0c0c0"/>
<rect x="523" y="411" width="3" height="16" fill="#c0c0c0"/>
<rect x="531" y="411" width="3" height="15" fill="#c0c0c0"/>
<rect x="539" y="411" width="3" height="16" fill="#c0c0c0"/>
<rect x="547" y="411" width="3" height="17" fill="#c0c0c0"/>
<rect x="555" y="411" width="3" height="19" fill="#c0c0c0"/>
<rect x="563" y="411" width="3" height="19" fill="#c0c0c0"/>
<rect x="571" y="411" width="3" height="19" fill="#c0c0c0"/>
<rect x="579" y="411" width="3" height="19" fill="#c0c0c0"/>
<rect x="587" y="411" width="3" height="21" fill="#c0c0c0"/>
<rect x="595" y="411" width="3" height="21" fill="#c0c0c0"/>
<rect x="603" y="411" width="3" height="20" fill="#c0c0c0"/>
<rect x="611" y="411" width="3" height="20" fill="#c0c0c0"/>
<rect x="619" y="411" width="3" height="20" fill="#c0c0c0"/>
<rect x="627" y="411" width="3" height="19" fill="#c0c0c0"/>
<rect x="635" y="411" width="3" height="19" fill="#c0c0c0"/>
<rect x="643" y="411" width="3" height="20" fill="#c0c0c0"/>
<rect x="651" y="411" width="3" height="20" fill="#c0c0c0"/>
<rect x="659" y="411" width="3" height="21" fill="#c0c0c0"/>
<rect x="667" y="411" width="3" height="21" fill="#c0c0c0"/>
<rect x="675" y="411" width="3" height="22" fill="#c0c0c0"/>
<rect x="683" y="411" width="3" height="23" fill="#c0c0c0"/>
<rect x="691" y="411" width="3" height="23" fill="#c0c0c0"/>
<rect x="699" y="411" width="3" height="22" fill="#c0c0c0"/>
<rect x="707" y="411" width="3" height="22" fill="#c0c0c0"/>
<rect x="715" y="411" width="3" height="22" fill="#c0c0c0"/>
<rect x="723" y="411" width="3" height="20" fill="#c0c0c0"/>
<rect x="731" y="411" width="3" height="15" fill="#c0c0c0"/>
<rect x="739" y="411" width="3" height="14" fill="#c0c0c0"/>
<rect x="747" y="411" width="3" height="11" fill="#c0c0c0"/>
<rect x="755" y="411" width="3" height="9" fill="#c0c0c0"/>
<rect x="763" y="411" width="3" height="8" fill="#c0c0c0"/>
<rect x="771" y="411" width="3" height="7" fill="#c0c0c0"/>
<rect x="779" y="411" width="3" height="6" fill="#c0c0c0"/>
<rect x="787" y="411" width="3" height="5" fill="#c0c0c0"/>
<rect x="795" y="411" width="3" height="5" fill="#c0c0c0"/>
<rect x="803" y="411" width="3" height="4" fill="#c0c0c0"/>
<rect x="811" y="411" width="3" height="3" fill="#c0c0c0"/>
<rect x="819" y="410" width="3" height="1" fill="#c0c0c0"/>
<rect x="827" y="408" width="3" height="3" fill="#c0c0c0"/>
<rect x="835" y="404" width="3" height="7" fill="#c0c0c0"/>
<rect x="843" y="402" width="3" height="9" fill="#c0c0c0"/>
<rect x="851" y="399" width="3" height="12" fill="#c0c0c0"/>
<rect x="859" y="398" width="3" height="13" fill="#c0c0c0"/>
<rect x="867" y="397" width="3" height="14" fill="#c0c0c0"/>
<rect x="875" y="396" width="3" height="15" fill="#c0c0c0"/>
<rect x="883" y="398" width="3" height="13" fill="#c0c0c0"/>
<rect x="891" y="399" width="3" height="12" fill="#c0c0c0"/>
<rect x="899" y="400" width="3" height="11" fill="#c0c0c0"/>
<rect x="907" y="401" width="3" height="10" fill="#c0c0c0"/>
<rect x="915" y="403" width="3" height="8" fill="#c0c0c0"/>
</g>
<path class="c" fill="#ff0000" d="M893 399h24v1h-24zM887 400h6v1h-6zM882 401h5v1h-5zM877 402h5v1h-5zM873 403h4v1h-4zM869 404h4v1h-4zM865 405h4v1h-4zM859 406h6v1h-6zM854 407h5v1h-5zM849 408h5v1h-5zM843 409h6v1h-6zM838 410h5v1h-5zM833 411h5v1h-5zM827 412h6v1h-6zM822 413h5v1h-5zM4 414h3v1h-3zM817 414h5v1h-5zM7 415h5v1h-5zM811 415h6v1h-6zM12 416h6v1h-6zM368 416h41v1h-41zM806 416h5v1h-5zM18 417h5v1h-5zM290 417h13v1h-13zM344 417h24v1h-24zM409 417h8v1h-8zM801 417h5v1h-5zM23 418h5v1h-5zM276 418h14v1h-14zM303 418h41v1h-41zM417 418h8v1h-8zM795 418h6v1h-6zM28 419h5v1h-5zM268 419h8v1h-8zM425 419h8v1h-8zM790 419h5v1h-5zM33 420h5v1h-5zM261 420h7v1h-7zM433 420h4v1h-4zM785 420h5v1h-5zM38 421h4v1h-4zM255 421h6v1h-6zM437 421h6v1h-6zM779 421h6v1h-6zM42 422h4v1h-4zM250 422h5v1h-5zM443 422h4v1h-4zM774 422h5v1h-5zM46 423h4v1h-4zM246 423h4v1h-4zM447 423h6v1h-6zM770 423h4v1h-4zM50 424h4v1h-4zM242 424h4v1h-4zM453 424h8v1h-8zM767 424h3v1h-3zM54 425h4v1h-4zM238 425h4v1h-4zM461 425h8v1h-8zM763 425h4v1h-4zM58 426h4v1h-4zM232 426h6v1h-6zM469 426h9v1h-9zM760 426h3v1h-3zM62 427h2v1h-2zM226 427h6v1h-6zM478 427h20v1h-20zM528 427h32v1h-32zM757 427h3v1h-3zM64 428h3v1h-3zM221 428h5v1h-5zM498 428h30v1h-30zM560 428h40v1h-40zM751 428h6v1h-6zM67 429h2v1h-2zM217 429h4v1h-4zM600 429h5v1h-5zM743 429h8v1h-8zM69 430h3v1h-3zM213 430h4v1h-4zM605 430h35v1h-35zM736 430h7v1h-7zM72 431h2v1h-2zM209 431h4v1h-4zM640 431h48v1h-48zM730 431h6v1h-6zM74 432h3v1h-3zM206 432h3v1h-3zM688 432h42v1h-42zM77 433h2v1h-2zM203 433h3v1h-3zM79 434h3v1h-3zM199 434h4v1h-4zM82 435h2v1h-2zM196 435h3v1h-3zM84 436h3v1h-3zM193 436h3v1h-3zM87 437h2v1h-2zM190 437h3v1h-3zM89 438h3v1h-3zM187 438h3v1h-3zM92 439h2v1h-2zM185 439h2v1h-2zM94 440h3v1h-3zM182 440h3v1h-3zM97 441h2v1h-2zM179 441h3v1h-3zM99 442h3v1h-3zM177 442h2v1h-2zM102 443h3v1h-3zM173 443h4v1h-4zM105 444h2v1h-2zM169 444h4v1h-4zM107 445h3v1h-3zM165 445h4v1h-4zM110 446h3v1h-3zM161 446h4v1h-4zM113 447h2v1h-2zM157 447h4v1h-4zM115 448h3v1h-3zM151 448h6v1h-6zM118 449h4v1h-4zM146 449h5v1h-5zM122 450h6v1h-6zM137 450h9v1h-9zM128 451h9v1h-9z"/>
<g class="c">
<line x1="6" y1="483.5" x2="1166" y2="483.5" stroke="#c0c0c0" stroke-dasharray="3,3"/>
<line x1="6" y1="509.5" x2="1166" y2="509.5" stroke="#c0c0c0" stroke-dasharray="3,3"/>
</g>
<path class="c" fill="#1e90ff" d="M835 485h3v1h-3zM833 486h2v1h-2zM838 486h2v1h-2zM850 486h9v1h-9zM831 487h2v1h-2zM840 487h3v1h-3zM846 487h4v1h-4zM859 487h4v1h-4zM874 487h3v1h-3zM820 488h4v1h-4zM829 488h2v1h-2zM843 488h3v1h-3zM863 488h4v1h-4zM870 488h4v1h-4zM877 488h1v1h-1zM819 489h1v1h-1zM824 489h5v1h-5zM867 489h3v1h-3zM878 489h2v1h-2zM818 490h1v1h-1zM880 490h1v1h-1zM816 491h2v1h-2zM881 491h1v1h-1zM732 492h1v1h-1zM815 492h1v1h-1zM882 492h2v1h-2zM731 493h1v1h-1zM733 493h2v1h-2zM814 493h1v1h-1zM884 493h2v1h-2zM232 494h11v1h-11zM730 494h1v1h-1zM735 494h1v1h-1zM813 494h1v1h-1zM886 494h4v1h-4zM895 494h19v1h-19zM212 495h4v1h-4zM224 495h8v1h-8zM243 495h3v1h-3zM336 495h8v1h-8zM730 495h1v1h-1zM736 495h2v1h-2zM745 495h16v1h-16zM775 495h10v1h-10zM802 495h11v1h-11zM890 495h5v1h-5zM914 495h3v1h-3zM210 496h2v1h-2zM216 496h8v1h-8zM246 496h2v1h-2zM300 496h1v1h-1zM329 496h7v1h-7zM344 496h5v1h-5zM729 496h1v1h-1zM738 496h2v1h-2zM742 496h3v1h-3zM761 496h14v1h-14zM785 496h5v1h-5zM800 496h2v1h-2zM209 497h1v1h-1zM248 497h2v1h-2zM298 497h2v1h-2zM301 497h2v1h-2zM315 497h14v1h-14zM349 497h1v1h-1zM364 497h18v1h-18zM728 497h1v1h-1zM740 497h2v1h-2zM790 497h4v1h-4zM798 497h2v1h-2zM4 498h1v1h-1zM124 498h4v1h-4zM136 498h5v1h-5zM176 498h13v1h-13zM208 498h1v1h-1zM250 498h2v1h-2zM257 498h6v1h-6zM296 498h2v1h-2zM303 498h1v1h-1zM313 498h2v1h-2zM350 498h2v1h-2zM362 498h2v1h-2zM382 498h2v1h-2zM727 498h1v1h-1zM794 498h4v1h-4zM5 499h1v1h-1zM123 499h1v1h-1zM128 499h8v1h-8zM141 499h2v1h-2zM168 499h8v1h-8zM189 499h2v1h-2zM206 499h2v1h-2zM252 499h5v1h-5zM263 499h7v1h-7zM294 499h2v1h-2zM304 499h2v1h-2zM311 499h2v1h-2zM352 499h1v1h-1zM360 499h2v1h-2zM384 499h3v1h-3zM515 499h12v1h-12zM726 499h1v1h-1zM6 500h2v1h-2zM123 500h1v1h-1zM143 500h2v1h-2zM162 500h6v1h-6zM191 500h1v1h-1zM205 500h1v1h-1zM270 500h19v1h-19zM292 500h2v1h-2zM306 500h2v1h-2zM309 500h2v1h-2zM353 500h1v1h-1zM359 500h1v1h-1zM387 500h3v1h-3zM513 500h2v1h-2zM527 500h4v1h-4zM726 500h1v1h-1zM8 501h1v1h-1zM122 501h1v1h-1zM145 501h2v1h-2zM158 501h4v1h-4zM192 501h2v1h-2zM202 501h3v1h-3zM289 501h3v1h-3zM308 501h1v1h-1zM354 501h2v1h-2zM357 501h2v1h-2zM390 501h2v1h-2zM460 501h2v1h-2zM474 501h9v1h-9zM511 501h2v1h-2zM531 501h5v1h-5zM700 501h2v1h-2zM725 501h1v1h-1zM9 502h1v1h-1zM121 502h1v1h-1zM147 502h11v1h-11zM194 502h2v1h-2zM198 502h4v1h-4zM356 502h1v1h-1zM392 502h3v1h-3zM458 502h2v1h-2zM462 502h4v1h-4zM470 502h4v1h-4zM483 502h3v1h-3zM509 502h2v1h-2zM536 502h5v1h-5zM627 502h3v1h-3zM699 502h1v1h-1zM702 502h2v1h-2zM720 502h5v1h-5zM10 503h2v1h-2zM121 503h1v1h-1zM196 503h2v1h-2zM395 503h3v1h-3zM457 503h1v1h-1zM466 503h4v1h-4zM486 503h2v1h-2zM508 503h1v1h-1zM541 503h2v1h-2zM624 503h3v1h-3zM630 503h2v1h-2zM698 503h1v1h-1zM704 503h2v1h-2zM715 503h5v1h-5zM12 504h3v1h-3zM24 504h21v1h-21zM120 504h1v1h-1zM398 504h2v1h-2zM456 504h1v1h-1zM488 504h1v1h-1zM506 504h2v1h-2zM543 504h2v1h-2zM563 504h12v1h-12zM596 504h2v1h-2zM622 504h2v1h-2zM632 504h3v1h-3zM697 504h1v1h-1zM706 504h2v1h-2zM711 504h4v1h-4zM15 505h9v1h-9zM45 505h1v1h-1zM119 505h1v1h-1zM400 505h3v1h-3zM418 505h12v1h-12zM444 505h3v1h-3zM454 505h2v1h-2zM489 505h2v1h-2zM504 505h2v1h-2zM545 505h2v1h-2zM560 505h3v1h-3zM575 505h4v1h-4zM594 505h2v1h-2zM598 505h4v1h-4zM608 505h14v1h-14zM635 505h5v1h-5zM696 505h1v1h-1zM708 505h3v1h-3zM46 506h2v1h-2zM119 506h1v1h-1zM403 506h15v1h-15zM430 506h2v1h-2zM442 506h2v1h-2zM447 506h4v1h-4zM453 506h1v1h-1zM491 506h2v1h-2zM502 506h2v1h-2zM547 506h5v1h-5zM558 506h2v1h-2zM579 506h4v1h-4zM592 506h2v1h-2zM602 506h6v1h-6zM640 506h8v1h-8zM695 506h1v1h-1zM48 507h1v1h-1zM118 507h1v1h-1zM432 507h2v1h-2zM440 507h2v1h-2zM451 507h2v1h-2zM493 507h3v1h-3zM500 507h2v1h-2zM552 507h6v1h-6zM583 507h2v1h-2zM591 507h1v1h-1zM648 507h8v1h-8zM694 507h1v1h-1zM49 508h1v1h-1zM117 508h1v1h-1zM434 508h2v1h-2zM438 508h2v1h-2zM496 508h4v1h-4zM585 508h2v1h-2zM589 508h2v1h-2zM656 508h8v1h-8zM693 508h1v1h-1zM50 509h2v1h-2zM117 509h1v1h-1zM436 509h2v1h-2zM587 509h2v1h-2zM664 509h7v1h-7zM683 509h10v1h-10zM52 510h2v1h-2zM112 510h5v1h-5zM671 510h4v1h-4zM679 510h4v1h-4zM54 511h4v1h-4zM72 511h6v1h-6zM107 511h5v1h-5zM675 511h4v1h-4zM58 512h14v1h-14zM78 512h4v1h-4zM104 512h3v1h-3zM82 513h6v1h-6zM102 513h2v1h-2zM88 514h14v1h-14z"/>
<g>
<text x="8.0" y="36" font-size="10.1" fill="#000" textLength="68.8" lengthAdjust="spacingAndGlyphs" stroke="#000" stroke-width="0.25">USDCAD-,Daily</text>
<text x="83.0" y="36" font-size="10.1" fill="#000" textLength="32.6" lengthAdjust="spacingAndGlyphs" stroke="#000" stroke-width="0.25">1.32921</text>
<text x="119.4" y="36" font-size="10.1" fill="#000" textLength="33.0" lengthAdjust="spacingAndGlyphs" stroke="#000" stroke-width="0.25">1.32936</text>
<text x="155.6" y="36" font-size="10.1" fill="#000" textLength="32.6" lengthAdjust="spacingAndGlyphs" stroke="#000" stroke-width="0.25">1.32771</text>
<text x="191.9" y="36" font-size="10.1" fill="#000" textLength="32.6" lengthAdjust="spacingAndGlyphs" stroke="#000" stroke-width="0.25">1.32814</text>
<text x="8.0" y="405" font-size="10.1" fill="#000" textLength="66.9" lengthAdjust="spacingAndGlyphs" stroke="#000" stroke-width="0.25">MACD(12,26,9)</text>
<text x="76.8" y="405" font-size="10.1" fill="#000" textLength="38.3" lengthAdjust="spacingAndGlyphs" stroke="#000" stroke-width="0.25">0.002979</text>
<text x="118.4" y="405" font-size="10.1" fill="#000" textLength="37.1" lengthAdjust="spacingAndGlyphs" stroke="#000" stroke-width="0.25">0.004241</text>
<text x="8.0" y="474" font-size="10.1" fill="#000" textLength="31.5" lengthAdjust="spacingAndGlyphs" stroke="#000" stroke-width="0.25">RSI(14)</text>
<text x="43.0" y="474" font-size="10.1" fill="#000" textLength="32.9" lengthAdjust="spacingAndGlyphs" stroke="#000" stroke-width="0.25">51.2293</text>
</g>
<g class="c">
<rect x="1167" y="57" width="2" height="1" fill="#000"/>
<rect x="1167" y="90" width="2" height="1" fill="#000"/>
<rect x="1167" y="123" width="2" height="1" fill="#000"/>
<rect x="1167" y="156" width="2" height="1" fill="#000"/>
<rect x="1167" y="189" width="2" height="1" fill="#000"/>
<rect x="1167" y="222" width="2" height="1" fill="#000"/>
<rect x="1167" y="255" width="2" height="1" fill="#000"/>
<rect x="1167" y="288" width="2" height="1" fill="#000"/>
<rect x="1167" y="321" width="2" height="1" fill="#000"/>
<rect x="1167" y="354" width="2" height="1" fill="#000"/>
<rect x="1167" y="387" width="2" height="1" fill="#000"/>
<rect x="1167" y="411" width="2" height="1" fill="#000"/>
</g>
<g>
<text x="1172.3" y="61" font-size="10.1" fill="#000" textLength="32.8" lengthAdjust="spacingAndGlyphs" stroke="#000" stroke-width="0.25">1.39630</text>
<text x="1172.3" y="94" font-size="10.1" fill="#000" textLength="32.8" lengthAdjust="spacingAndGlyphs" stroke="#000" stroke-width="0.25">1.38655</text>
<text x="1172.3" y="127" font-size="10.1" fill="#000" textLength="32.8" lengthAdjust="spacingAndGlyphs" stroke="#000" stroke-width="0.25">1.37655</text>
<text x="1172.3" y="160" font-size="10.1" fill="#000" textLength="32.8" lengthAdjust="spacingAndGlyphs" stroke="#000" stroke-width="0.25">1.36680</text>
<text x="1172.3" y="193" font-size="10.1" fill="#000" textLength="32.8" lengthAdjust="spacingAndGlyphs" stroke="#000" stroke-width="0.25">1.35680</text>
<text x="1172.3" y="226" font-size="10.1" fill="#000" textLength="32.8" lengthAdjust="spacingAndGlyphs" stroke="#000" stroke-width="0.25">1.34705</text>
<text x="1172.3" y="259" font-size="10.1" fill="#000" textLength="32.8" lengthAdjust="spacingAndGlyphs" stroke="#000" stroke-width="0.25">1.33705</text>
<text x="1172.3" y="292" font-size="10.1" fill="#000" textLength="32.8" lengthAdjust="spacingAndGlyphs" stroke="#000" stroke-width="0.25">1.32705</text>
<text x="1172.3" y="325" font-size="10.1" fill="#000" textLength="32.8" lengthAdjust="spacingAndGlyphs" stroke="#000" stroke-width="0.25">1.31730</text>
<text x="1172.3" y="358" font-size="10.1" fill="#000" textLength="32.8" lengthAdjust="spacingAndGlyphs" stroke="#000" stroke-width="0.25">1.30730</text>
<text x="1172.3" y="391" font-size="10.1" fill="#000" textLength="32.8" lengthAdjust="spacingAndGlyphs" stroke="#000" stroke-width="0.25">1.29755</text>
</g>
<rect class="c" x="1168" y="280" width="40" height="11" fill="#000"/>
<text x="1172.3" y="289" font-size="10.1" fill="#fff" textLength="32.8" lengthAdjust="spacingAndGlyphs" stroke="#fff" stroke-width="0.25">1.32814</text>
<rect class="c" x="1168" y="185" width="40" height="11" fill="#ff0000"/>
<text x="1172.3" y="194" font-size="10.1" fill="#fff" textLength="32.8" lengthAdjust="spacingAndGlyphs" stroke="#fff" stroke-width="0.25">1.35617</text>
<rect class="c" x="1168" y="233" width="40" height="11" fill="#ff0000"/>
<text x="1172.3" y="242" font-size="10.1" fill="#fff" textLength="32.8" lengthAdjust="spacingAndGlyphs" stroke="#fff" stroke-width="0.25">1.34200</text>
<rect class="c" x="1168" y="326" width="40" height="11" fill="#0000ff"/>
<text x="1172.3" y="335" font-size="10.1" fill="#fff" textLength="32.8" lengthAdjust="spacingAndGlyphs" stroke="#fff" stroke-width="0.25">1.31399</text>
<rect class="c" x="1168" y="373" width="40" height="11" fill="#0000ff"/>
<text x="1172.3" y="382" font-size="10.1" fill="#fff" textLength="32.8" lengthAdjust="spacingAndGlyphs" stroke="#fff" stroke-width="0.25">1.30004</text>
<rect class="c" x="1168" y="273" width="40" height="11" fill="#00ff00"/>
<text x="1172.3" y="282" font-size="10.1" fill="#fff" textLength="32.8" lengthAdjust="spacingAndGlyphs" stroke="#fff" stroke-width="0.25">1.33002</text>
<g>
<text x="1169.6" y="403" font-size="10.1" fill="#000" textLength="39.6" lengthAdjust="spacingAndGlyphs" stroke="#000" stroke-width="0.25">0.006245</text>
<text x="1169.6" y="415" font-size="10.1" fill="#000" textLength="18.6" lengthAdjust="spacingAndGlyphs" stroke="#000" stroke-width="0.25">0.00</text>
<text x="1169.6" y="456" font-size="10.1" fill="#000" textLength="43.0" lengthAdjust="spacingAndGlyphs" stroke="#000" stroke-width="0.25">-0.016933</text>
<text x="1170.0" y="472" font-size="10.1" fill="#000" textLength="15.2" lengthAdjust="spacingAndGlyphs" stroke="#000" stroke-width="0.25">100</text>
<text x="1169.6" y="487" font-size="10.1" fill="#000" textLength="9.8" lengthAdjust="spacingAndGlyphs" stroke="#000" stroke-width="0.25">70</text>
<text x="1169.6" y="513" font-size="10.1" fill="#000" textLength="9.8" lengthAdjust="spacingAndGlyphs" stroke="#000" stroke-width="0.25">30</text>
<text x="1170.0" y="527" font-size="10.1" fill="#000" textLength="5.2" lengthAdjust="spacingAndGlyphs" stroke="#000" stroke-width="0.25">0</text>
</g>
<g class="c">
<rect x="4" y="531" width="1" height="3" fill="#000"/>
<rect x="68" y="531" width="1" height="3" fill="#000"/>
<rect x="132" y="531" width="1" height="3" fill="#000"/>
<rect x="196" y="531" width="1" height="3" fill="#000"/>
<rect x="260" y="531" width="1" height="3" fill="#000"/>
<rect x="324" y="531" width="1" height="3" fill="#000"/>
<rect x="388" y="531" width="1" height="3" fill="#000"/>
<rect x="452" y="531" width="1" height="3" fill="#000"/>
<rect x="516" y="531" width="1" height="3" fill="#000"/>
<rect x="580" y="531" width="1" height="3" fill="#000"/>
<rect x="644" y="531" width="1" height="3" fill="#000"/>
<rect x="708" y="531" width="1" height="3" fill="#000"/>
<rect x="772" y="531" width="1" height="3" fill="#000"/>
<rect x="836" y="531" width="1" height="3" fill="#000"/>
<rect x="900" y="531" width="1" height="3" fill="#000"/>
</g><g>
<text x="3.3" y="543" font-size="10.1" fill="#000" textLength="54.6" lengthAdjust="spacingAndGlyphs" stroke="#000" stroke-width="0.25">25 May 2020</text>
<text x="67.3" y="543" font-size="10.1" fill="#000" textLength="44.2" lengthAdjust="spacingAndGlyphs" stroke="#000" stroke-width="0.25">3 Jun 2020</text>
<text x="131.3" y="543" font-size="10.1" fill="#000" textLength="49.3" lengthAdjust="spacingAndGlyphs" stroke="#000" stroke-width="0.25">12 Jun 2020</text>
<text x="195.3" y="543" font-size="10.1" fill="#000" textLength="49.3" lengthAdjust="spacingAndGlyphs" stroke="#000" stroke-width="0.25">22 Jun 2020</text>
<text x="259.3" y="543" font-size="10.1" fill="#000" textLength="41.3" lengthAdjust="spacingAndGlyphs" stroke="#000" stroke-width="0.25">1 Jul 2020</text>
<text x="323.3" y="543" font-size="10.1" fill="#000" textLength="46.6" lengthAdjust="spacingAndGlyphs" stroke="#000" stroke-width="0.25">10 Jul 2020</text>
<text x="387.3" y="543" font-size="10.1" fill="#000" textLength="46.6" lengthAdjust="spacingAndGlyphs" stroke="#000" stroke-width="0.25">20 Jul 2020</text>
<text x="451.3" y="543" font-size="10.1" fill="#000" textLength="46.6" lengthAdjust="spacingAndGlyphs" stroke="#000" stroke-width="0.25">29 Jul 2020</text>
<text x="515.3" y="543" font-size="10.1" fill="#000" textLength="47.7" lengthAdjust="spacingAndGlyphs" stroke="#000" stroke-width="0.25">7 Aug 2020</text>
<text x="579.3" y="543" font-size="10.1" fill="#000" textLength="52.6" lengthAdjust="spacingAndGlyphs" stroke="#000" stroke-width="0.25">17 Aug 2020</text>
<text x="643.3" y="543" font-size="10.1" fill="#000" textLength="52.8" lengthAdjust="spacingAndGlyphs" stroke="#000" stroke-width="0.25">26 Aug 2020</text>
<text x="707.3" y="543" font-size="10.1" fill="#000" textLength="47.2" lengthAdjust="spacingAndGlyphs" stroke="#000" stroke-width="0.25">4 Sep 2020</text>
<text x="771.3" y="543" font-size="10.1" fill="#000" textLength="52.1" lengthAdjust="spacingAndGlyphs" stroke="#000" stroke-width="0.25">14 Sep 2020</text>
<text x="835.3" y="543" font-size="10.1" fill="#000" textLength="51.8" lengthAdjust="spacingAndGlyphs" stroke="#000" stroke-width="0.25">23 Sep 2020</text>
<text x="899.3" y="543" font-size="10.1" fill="#000" textLength="46.4" lengthAdjust="spacingAndGlyphs" stroke="#000" stroke-width="0.25">2 Oct 2020</text>
</g>
<g class="c">
<rect x="0" y="551" width="1208" height="1" fill="#e3e3e3"/>
<rect x="0" y="554" width="1208" height="24" fill="#f0f0f0"/>
<rect x="0" y="553" width="1208" height="1" fill="#000"/>
<rect x="0" y="573" width="1208" height="1" fill="#ffffff"/>
<rect x="0" y="576" width="1208" height="1" fill="#f6f6f6"/>
<rect x="0" y="577" width="1208" height="1" fill="#a0a0a0"/>
<rect x="0" y="554" width="1" height="18" fill="#6a6a6a"/>
<rect x="330" y="553" width="106" height="18" fill="#fff"/>
<rect x="329" y="553" width="1" height="19" fill="#000"/>
<rect x="436" y="553" width="1" height="19" fill="#000"/>
<rect x="329" y="571" width="108" height="1" fill="#000"/>
<rect x="113" y="556" width="1" height="14" fill="#7a7a7a"/>
<rect x="221" y="556" width="1" height="14" fill="#7a7a7a"/>
<rect x="549" y="556" width="1" height="14" fill="#7a7a7a"/>
</g>
<path d="M1185.2 558.8 L1181.8 562 L1185.2 565.2 Z" fill="#a0a0a0"/>
<path d="M1201 558.8 L1204.4 562 L1201 565.2 Z" fill="#a0a0a0"/>
<g>
<text x="16.0" y="568" font-size="12.8" fill="#6e6e6e" textLength="85.3" lengthAdjust="spacingAndGlyphs">EURUSD-,Daily</text>
<text x="123.4" y="568" font-size="12.8" fill="#6e6e6e" textLength="86.6" lengthAdjust="spacingAndGlyphs">AUDUSD-,Daily</text>
<text x="233.3" y="568" font-size="12.8" fill="#6e6e6e" textLength="83.7" lengthAdjust="spacingAndGlyphs">USDCHF-,Daily</text>
<text x="340.0" y="568" font-size="12.8" fill="#000" textLength="86.2" lengthAdjust="spacingAndGlyphs">USDCAD-,Daily</text>
<text x="449.1" y="568" font-size="12.8" fill="#6e6e6e" textLength="88.3" lengthAdjust="spacingAndGlyphs">USDCNH-,Daily</text>
</g>
</svg></body></html>
